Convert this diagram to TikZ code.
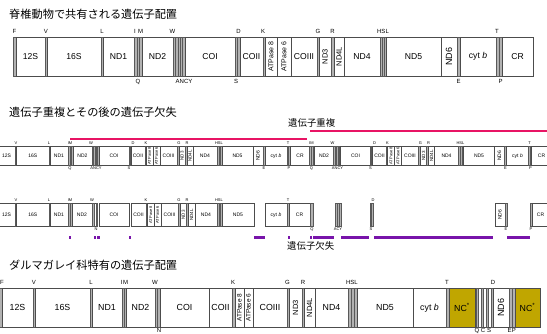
\documentclass[tikz,border=0pt]{standalone}
\usepackage{fontspec}
\setmainfont{Liberation Sans}
\newfontfamily\jp{Noto Sans CJK JP}
\definecolor{dup}{RGB}{232,20,100}
\definecolor{del}{RGB}{120,20,170}
\definecolor{ncol}{RGB}{192,166,0}
\newcount\nid
\newcommand\lab[3][]{\global\advance\nid by 1\relax\node[#1] (n\the\nid) at (#2) {#3};}
\newcommand\G[3]{\draw[gb] (#1,\rt) rectangle (#2,\rb);\lab[gl]{{(#1+#2)/2},{(\rt+\rb)/2}}{#3}}
\newcommand\NCbox[2]{\draw[gb,fill=ncol] (#1,\rt) rectangle (#2,\rb);\lab[gl]{{(#1+#2)/2},{(\rt+\rb)/2}}{NC\textsuperscript{*}}}
\newcommand\V[4][\vs]{\draw[gb] (#2,\rt) rectangle (#3,\rb);\lab[inner sep=0,rotate=90,font=\fontsize{#1}{#1}\selectfont]{{(#2+#3)/2},{(\rt+\rb)/2}}{#4}}
\newcommand\T[2]{\draw[tr] (#1,\rt) rectangle (#2,\rb);}
\newcommand\A[2]{\lab[tl]{#1,\ay}{#2}}
\newcommand\B[2]{\lab[tl]{#1,\by}{#2}}
\newcommand\Del[2]{\fill[del] (#1,235.6) rectangle (#2,238.6);}
\newcommand\rowBody{%
 \T{68}{69.7}\T{69.7}{71.3}\T{71.3}{73}
 \G{73}{92}{ND2}
 \T{92}{93.4}\T{93.4}{94.8}\T{94.8}{96.2}\T{96.2}{97.6}\T{97.6}{99}
 \G{99}{129}{COI}
 \T{129}{130}\T{130}{131}
 \G{131}{145}{COII}
 \T{145}{146}
 \V{146}{153}{ATPase 8}
 \V{153}{160}{ATPase 6}
 \G{160}{177}{COIII}
 \T{177}{179}
 \V[4.5]{179}{185}{ND3}
 \T{185}{187}
 \V[4.5]{187}{193}{ND4L}
 \G{193}{217}{ND4}
 \T{217}{218.7}\T{218.7}{220.3}\T{220.3}{222}
 \G{222}{253}{ND5}
 \V[5]{253}{263}{ND6}
 \T{263}{265}
 \G{265}{287}{cyt \textit{b}}
 \T{287}{288.5}\T{288.5}{290}
 \G{290}{310}{CR}
 \A{70}{IM}\A{91}{W}\A{133}{D}\A{146}{K}\A{179}{G}\A{187}{R}\A{219}{HSL}\A{288}{T}
 \B{70}{Q}\B{96}{ANCY}\B{129}{S}\B{264}{E}\B{289}{P}}
\begin{document}
\begin{tikzpicture}[x=1pt,y=-1pt,
  gb/.style={draw=black!70,line width=0.45pt,fill=white},
  tr/.style={draw=black!65,line width=0.4pt,fill=black!30},
  gl/.style={inner sep=0,font=\fontsize{\gs}{\gs}\selectfont},
  tl/.style={inner sep=0,anchor=base,font=\fontsize{\ts}{\ts}\selectfont},
  title/.style={inner sep=0,anchor=west,font=\jp\fontsize{11.2}{12}\selectfont},
  sub/.style={inner sep=0,anchor=west,font=\jp\fontsize{9.4}{10}\selectfont}]
\clip (0,0) rectangle (547,334);
\fill[white] (0,0) rectangle (547,334);
% ---------- section 1 ----------
\lab[title]{9,14}{脊椎動物で共有される遺伝子配置}
\def\rt{37.3}\def\rb{76}\def\ay{34}\def\by{84}
\def\gs{8.6}\def\vs{7}\def\ts{6}
\T{13}{16}\G{16}{45}{12S}\T{45}{47}\G{47}{101}{16S}\T{101}{103}\G{103}{134}{ND1}
\T{134}{136.7}\T{136.7}{139.3}\T{139.3}{142}\G{142}{173}{ND2}
\T{173}{175.4}\T{175.4}{177.8}\T{177.8}{180.2}\T{180.2}{182.6}\T{182.6}{185}
\G{185}{235}{COI}\T{235}{237.5}\T{237.5}{240}\G{240}{263}{COII}\T{263}{265}
\V{265}{277}{ATPase 8}\V{277}{291}{ATPase 6}\G{291}{317}{COIII}\T{317}{319}
\V[7.5]{319}{331}{ND3}\T{331}{334}\V[7.5]{334}{344}{ND4L}\G{344}{380}{ND4}
\T{380}{382}\T{382}{384}\T{384}{386}\G{386}{441}{ND5}\V[9]{441}{457}{ND6}\T{457}{460}
\G{460}{496}{cyt \textit{b}}\T{496}{499}\T{499}{502}\G{502}{533}{CR}
\A{14.5}{F}\A{46}{V}\A{102}{L}\A{135}{I}\A{140.5}{M}\A{172.5}{W}\A{238.5}{D}\A{263}{K}
\A{318}{G}\A{332.5}{R}\A{383}{HSL}\A{497}{T}
\B{138}{Q}\B{184}{ANCY}\B{236}{S}\B{458.5}{E}\B{500.5}{P}
% ---------- section 2 ----------
\lab[title]{9,112}{遺伝子重複とその後の遺伝子欠失}
\draw[dup,line width=2pt] (70,139) -- (307,139);
\draw[dup,line width=2pt] (310,131) -- (550,131);
\lab[sub]{288,123}{遺伝子重複}
\def\rt{146}\def\rb{165.5}\def\ay{144.3}\def\by{169.6}
\def\gs{5}\def\vs{4}\def\ts{4}
\G{-2}{15}{12S}\T{15}{16.5}\G{16.5}{49}{16S}\T{49}{50}\G{50}{68}{ND1}
\A{16}{V}\A{49}{L}
\rowBody
\begin{scope}[xshift=241.5pt]
\rowBody
\end{scope}
% ---------- row 3 (after deletion) ----------
\def\rt{203}\def\rb{226.5}\def\ay{201.5}\def\by{230.6}
\G{-2}{15}{12S}\T{15}{16.5}\G{16.5}{49}{16S}\T{49}{50}\G{50}{68}{ND1}
\T{68}{70}\T{70}{72}\G{72}{92}{ND2}
\G{92}{97.5}{}\T{92}{94}\T{96}{97.5}
\G{99}{129}{COI}
\G{131}{146}{COII}\T{146}{147.5}\V{147.5}{154}{ATPase 8}\V{154}{161}{ATPase 6}
\G{161}{178}{COIII}\T{178}{180}\V[4.5]{180}{186.5}{ND3}\T{186.5}{188}\V[4.5]{188}{195}{ND4L}
\G{195}{217}{ND4}\T{217}{218.7}\T{218.7}{220.3}\T{220.3}{222}\G{222}{254}{ND5}
\G{265}{287}{cyt \textit{b}}\T{287}{289}\G{289}{310}{CR}\T{310}{313}
\T{335}{337}\T{337}{339}\T{339}{341}
\T{370}{371.5}\T{371.5}{373}
\V[5]{495}{505}{ND6}\T{505}{507}
\T{530}{532}\G{532}{549}{CR}
\A{16}{V}\A{49}{L}\A{70}{IM}\A{92}{W}\A{146}{K}\A{179}{G}\A{187}{R}\A{219}{HSL}\A{288}{T}\A{373}{D}
\B{96}{N}\B{312}{Q}\B{338}{ACY}\B{371}{S}\B{506}{E}\B{531}{P}
\Del{69}{71}\Del{94}{96.3}\Del{97.3}{99.5}\Del{129}{131}\Del{254}{265}
\Del{288}{290}\Del{310}{312}\Del{313}{334}\Del{341}{369}\Del{374}{493}\Del{507}{530}
\lab[sub]{287,246}{遺伝子欠失}
% ---------- section 3 ----------
\lab[title]{9,265}{ダルマガレイ科特有の遺伝子配置}
\def\rt{288}\def\rb{327.5}\def\ay{284.5}\def\by{333}
\def\gs{8.8}\def\vs{6.5}\def\ts{6}
\T{-1}{2}\G{2}{33}{12S}\T{33}{35}\G{35}{90}{16S}\T{90}{92}\G{92}{122}{ND1}
\T{122}{124}\T{124}{126}\G{126}{155}{ND2}\T{155}{157.5}\T{157.5}{160}
\G{160}{209}{COI}\G{209}{232}{COII}\T{232}{235}
\V{235}{244}{ATPase 8}\V{244}{253}{ATPase 6}\G{253}{287}{COIII}\T{287}{289}
\V[7.5]{289}{302}{ND3}\T{302}{304}\V[7.5]{304}{315}{ND4L}\G{315}{348}{ND4}
\T{348}{351}\T{351}{354}\T{354}{357}\G{357}{413}{ND5}\G{413}{446}{cyt \textit{b}}
\T{446}{449}\NCbox{449}{475}
\G{475}{493}{}\T{475.7}{478.3}\T{480.7}{483.3}\T{486}{488.3}\T{490.7}{493}
\V[9]{493}{509}{ND6}\T{509}{512}\T{512}{515}\NCbox{515}{540}
\A{2}{F}\A{34}{V}\A{91}{L}\A{121.5}{I}\A{125.5}{M}\A{155}{W}\A{233}{K}\A{287.5}{G}
\A{303}{R}\A{352}{HSL}\A{447}{T}\A{493}{D}
\B{159}{N}\B{477}{Q}\B{483}{C}\B{489}{S}\B{509.5}{E}\B{513.8}{P}
\end{tikzpicture}
\end{document}
